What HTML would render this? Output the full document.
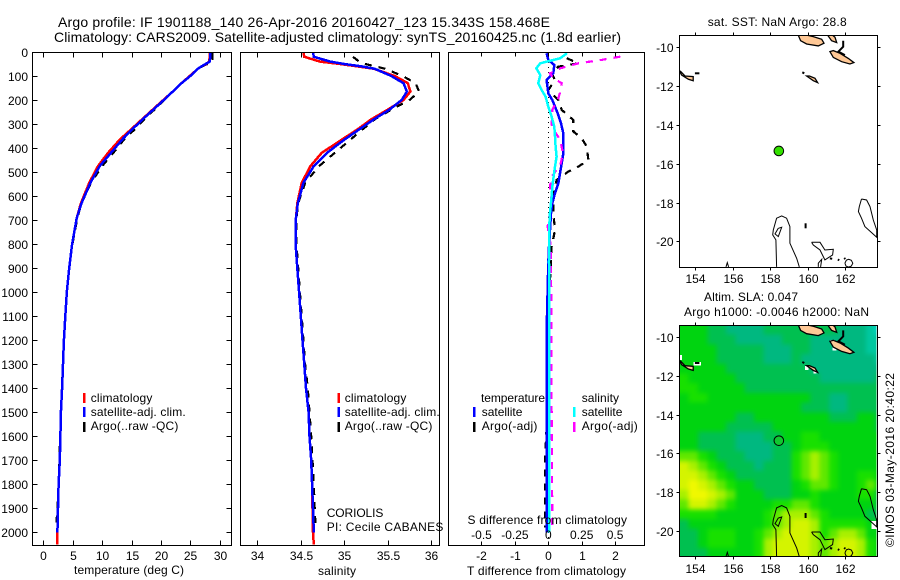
<!DOCTYPE html>
<html>
<head>
<meta charset="utf-8">
<title>Argo profile</title>
<style>
html,body{margin:0;padding:0;background:#fff;width:900px;height:580px;overflow:hidden}
svg{display:block}
text{font-family:"Liberation Sans",Arial,sans-serif;fill:#000;font-size:12px}
.t{font-size:14px}
</style>
</head>
<body>
<svg id="chart" width="900" height="580" viewBox="0 0 900 580" xmlns="http://www.w3.org/2000/svg">
  <defs>
    <clipPath id="clip-map1"><rect x="679.5" y="35.5" width="198" height="231.5"/></clipPath>
    <clipPath id="clip-map2"><rect x="679.5" y="325.5" width="198" height="231"/></clipPath>
    <clipPath id="clip-heat"><rect x="679.5" y="325.5" width="197" height="231"/></clipPath>
    <filter id="heat-smooth" filterUnits="userSpaceOnUse" x="640" y="290" width="260" height="290" color-interpolation-filters="sRGB">
      <feGaussianBlur stdDeviation="2.3"/>
    </filter>
  </defs>
  <g clip-path="url(#clip-heat)">
    <g id="heat" filter="url(#heat-smooth)"></g>
    <g id="heat-nan"></g>
  </g>
  <g id="map1" clip-path="url(#clip-map1)"></g>
  <g id="map2" clip-path="url(#clip-map2)"></g>
  <g id="series"></g>
  <g id="axes"></g>

  <text class="t" x="58" y="27" textLength="492" lengthAdjust="spacing">Argo profile: IF 1901188_140 26-Apr-2016 20160427_123 15.343S 158.468E</text>
  <text class="t" x="54" y="42" textLength="567" lengthAdjust="spacing">Climatology: CARS2009. Satellite-adjusted climatology: synTS_20160425.nc (1.8d earlier)</text>

  <text x="74" y="574" textLength="110" lengthAdjust="spacing">temperature (deg C)</text>
  <text x="318" y="575" textLength="38" lengthAdjust="spacing">salinity</text>
  <text x="467" y="575" textLength="159" lengthAdjust="spacing">T difference from climatology</text>
  <text x="467.5" y="524" textLength="159.5" lengthAdjust="spacing">S difference from climatology</text>

  <g>
    <rect x="83" y="393" width="2.5" height="10" fill="#f00"/>
    <rect x="83" y="407" width="2.5" height="10" fill="#00f"/>
    <rect x="83" y="422" width="2.5" height="10" fill="#000"/>
    <text x="90.7" y="402" textLength="61.7" lengthAdjust="spacing">climatology</text>
    <text x="90.7" y="416" textLength="95" lengthAdjust="spacing">satellite-adj. clim.</text>
    <text x="90.7" y="430" textLength="87.7" lengthAdjust="spacing">Argo(..raw -QC)</text>
  </g>
  <g>
    <rect x="337.5" y="393" width="2.5" height="10" fill="#f00"/>
    <rect x="337.5" y="407" width="2.5" height="10" fill="#00f"/>
    <rect x="337.5" y="422" width="2.5" height="10" fill="#000"/>
    <text x="344.7" y="402" textLength="61.7" lengthAdjust="spacing">climatology</text>
    <text x="344.7" y="416" textLength="95" lengthAdjust="spacing">satellite-adj. clim.</text>
    <text x="344.7" y="430" textLength="87.7" lengthAdjust="spacing">Argo(..raw -QC)</text>
  </g>
  <text x="326.7" y="517" textLength="56.7" lengthAdjust="spacing">CORIOLIS</text>
  <text x="326.7" y="531" textLength="116.7" lengthAdjust="spacing">PI: Cecile CABANES</text>

  <g>
    <text x="481" y="402" textLength="64" lengthAdjust="spacing">temperature</text>
    <rect x="473" y="407" width="2.5" height="10" fill="#00f"/>
    <rect x="473" y="422" width="2.5" height="10" fill="#000"/>
    <text x="481.7" y="416" textLength="40.7" lengthAdjust="spacing">satellite</text>
    <text x="481.7" y="430" textLength="55.7" lengthAdjust="spacing">Argo(-adj)</text>
    <text x="581.7" y="402" textLength="37.3" lengthAdjust="spacing">salinity</text>
    <rect x="573" y="407" width="2.5" height="10" fill="#0ff"/>
    <rect x="573" y="422" width="2.5" height="10" fill="#f0f"/>
    <text x="581.7" y="416" textLength="40.7" lengthAdjust="spacing">satellite</text>
    <text x="581.7" y="430" textLength="56" lengthAdjust="spacing">Argo(-adj)</text>
  </g>

  <text x="707.7" y="26" textLength="139" lengthAdjust="spacing">sat. SST: NaN Argo: 28.8</text>
  <text x="704" y="301" textLength="94" lengthAdjust="spacing">Altim. SLA: 0.047</text>
  <text x="684" y="316" textLength="185" lengthAdjust="spacing">Argo h1000: -0.0046 h2000: NaN</text>
  <text transform="translate(894 547) rotate(-90)" x="0" y="0" textLength="174" lengthAdjust="spacing">©IMOS 03-May-2016 20:40:22</text>
</svg>

<script>
// ---- profile data ----
const depthLevels = [0,20,40,50,60,70,100,130,165,200,240,280,325,365,420,475,545,630,690,800,900,1000,1100,1200,1300,1400,1500,1600,1700,1800,1900,2000,2050];
const climTemp = [28.3,28.3,28.2,27.7,26.9,26.3,24.9,23.5,22.0,20.4,18.6,16.8,14.8,13.0,11.0,9.3,7.8,6.4,5.7,4.9,4.4,4.0,3.75,3.5,3.35,3.2,3.0,2.9,2.8,2.6,2.5,2.4,2.35];
const adjTemp = [28.4,28.4,28.3,27.6,26.9,26.3,25.0,23.5,22.0,20.5,18.7,16.9,15.0,13.4,11.5,9.6,8.0,6.5,5.7,4.9,4.4,4.0,3.75,3.5,3.35,3.2,3.0,2.9,2.8,2.6,2.5,2.4];
const climSal = [34.53,34.54,34.72,34.95,35.15,35.34,35.58,35.73,35.76,35.68,35.5,35.31,35.14,34.97,34.74,34.61,34.51,34.46,34.445,34.44,34.46,34.48,34.5,34.52,34.54,34.56,34.59,34.6,34.62,34.63,34.635,34.64,34.65];
const adjSal = [34.64,34.65,34.84,35.0,35.2,35.35,35.54,35.68,35.72,35.66,35.52,35.34,35.16,35.0,34.8,34.65,34.53,34.465,34.445,34.44,34.46,34.48,34.5,34.52,34.54,34.56,34.59,34.6,34.62,34.63,34.64,34.65];
const argoDepth = [5,20,40,50,60,70,100,130,165,200,240,280,325,365,420,475,545,630,690,800,900,1000,1100,1200,1300,1400,1500,1600,1700,1800,1900,1980];
const argoTemp = [28.8,28.8,28.8,27.9,27.0,26.2,25.0,23.5,22.0,20.6,18.9,17.2,15.4,13.7,11.9,10.0,8.1,6.5,5.8,4.95,4.4,4.0,3.75,3.5,3.35,3.15,3.0,2.85,2.75,2.6,2.4,2.2];
const argoSalDepth = [20,40,50,60,70,100,130,165,200,240,280,325,365,420,475,545,630,690,800,900,1000,1100,1200,1300,1400,1500,1600,1700,1800,1900,1980];
const argoSal = [35.1,35.17,35.24,35.36,35.47,35.67,35.82,35.86,35.75,35.54,35.35,35.2,35.07,34.89,34.71,34.55,34.47,34.45,34.45,34.47,34.49,34.51,34.53,34.55,34.58,34.6,34.62,34.635,34.65,34.66,34.67];

const satTDepth = [5,33,54,89,117,172,200,255,297,338,380,422,464,505,547,588,630,672,741,811,880,1100,1500,2000];
const satTDiff = [-0.05,0,0.18,0.15,-0.05,0,0.12,0.28,0.38,0.45,0.45,0.45,0.4,0.35,0.3,0.2,0.12,0.08,0.05,0.02,0,-0.04,-0.05,-0.05];
const satSDepth = [5,26,47,68,96,130,158,186,228,269,311,352,394,436,477,519,561,602,672,741,880,1500,2000];
const satSDiff = [0.14,0.09,-0.06,-0.09,-0.06,-0.075,-0.05,-0.02,0,0.025,0.045,0.05,0.055,0.062,0.05,0.04,0.03,0.025,0.012,0.006,0.005,0.006,0.006];
const argoSDepth = [19,33,47,68,89,110,130,165,193,241,311,366,422,470,519,561,630,727,811,880,1000,1400,1700,1980];
const argoSDiff = [0.54,0.4,0.225,0.09,0.012,0.04,0.1,0.09,0.075,0.03,0.025,0.09,0.11,0.09,0.025,0.012,0.025,-0.005,0.02,0.02,0.022,0.024,0.028,0.03];
const argoTDepth = [26,47,61,89,117,158,200,241,283,331,359,394,450,477,498,533,588,672,741,811,880,1000,1100,1500,1700,1850,1980];
const argoTDiff = [0.55,0.9,0.3,0.1,0.2,0,0.3,0.4,0.75,0.75,1.0,1.15,1.2,0.9,0.6,0.25,0.15,0.15,0.2,0.1,0.08,0.03,-0.05,-0.03,-0.1,-0.1,-0.1];

// ---- tick labels ----
const depthTicks = [0,100,200,300,400,500,600,700,800,900,1000,1100,1200,1300,1400,1500,1600,1700,1800,1900,2000];
const tempTicks = [0,5,10,15,20,25,30];
const salTicks = [34,34.5,35,35.5,36];
const tDiffTicks = [-2,-1,0,1,2];
const sDiffTicks = [-0.5,-0.25,0,0.25,0.5];
const lonTicks = [154,156,158,160,162];
const latTicks = [-10,-12,-14,-16,-18,-20];

// ---- float position ----
const floatLon = 158.468;
const floatLat = -15.343;

// ---- SLA heatmap (colour level per half-degree cell, north to south) ----
const heatLon0 = 153.14;
const heatLat0 = -9.38;
const heatStep = 0.5;
const slaRow00 = [4,4,4,3,3,2,2,2,2,3,3,3,3,3,3,3,3,2,2,2,1,0];
const slaRow01 = [4,4,4,3,3,3,2,2,2,2,2,3,3,3,2,2,2,2,2,2,1,1];
const slaRow02 = [4,4,4,4,3,3,3,3,3,2,2,2,3,3,2,2,2,2,2,2,1,1];
const slaRow03 = [4,4,4,4,3,3,3,3,3,2,2,2,3,2,2,2,2,2,2,2,2,1];
const slaRow04 = [4,4,4,4,4,3,3,3,3,3,3,3,3,3,2,2,2,2,2,2,2,2];
const slaRow05 = [5,4,4,4,4,4,3,3,3,3,3,3,3,3,3,2,2,2,2,2,2,3];
const slaRow06 = [5,5,4,4,4,4,4,3,3,3,3,3,3,3,3,3,3,3,3,3,3,3];
const slaRow07 = [4,5,5,4,4,4,4,4,4,4,4,4,4,4,3,3,2,2,3,3,3,3];
const slaRow08 = [4,4,4,4,4,4,4,4,4,4,4,4,4,3,3,3,2,2,3,3,3,3];
const slaRow09 = [4,4,4,4,4,4,3,3,4,4,4,4,4,4,4,4,3,3,3,4,4,3];
const slaRow10 = [4,4,4,4,4,3,3,3,3,3,4,4,4,4,4,4,4,4,4,4,4,3];
const slaRow11 = [4,4,3,3,3,3,2,2,2,3,3,4,4,5,5,4,4,4,4,4,4,4];
const slaRow12 = [4,4,3,3,3,3,2,2,2,2,3,3,4,5,5,5,4,4,4,4,4,4];
const slaRow13 = [6,6,5,4,3,3,3,2,2,2,3,3,5,6,7,6,5,4,4,4,4,4];
const slaRow14 = [8,7,6,5,4,3,3,3,2,3,3,3,5,6,7,6,5,4,4,4,4,4];
const slaRow15 = [8,8,7,6,5,4,3,3,3,3,3,3,5,6,7,6,5,4,4,5,5,4];
const slaRow16 = [8,9,8,7,6,5,4,4,3,3,3,3,4,5,6,6,5,4,4,5,6,4];
const slaRow17 = [7,9,9,8,7,6,4,4,4,3,3,3,4,4,5,4,4,4,4,5,5,3];
const slaRow18 = [6,8,8,7,6,5,4,4,4,4,5,5,6,6,5,4,4,4,4,4,4,3];
const slaRow19 = [5,5,5,5,4,4,4,4,4,5,6,7,7,7,6,5,4,4,4,4,3,3];
const slaRow20 = [3,4,4,4,4,4,4,4,4,5,6,7,8,8,7,5,5,5,5,5,4,3];
const slaRow21 = [3,3,4,5,5,5,4,4,5,6,7,8,8,8,7,5,6,7,7,6,4,4];
const slaRow22 = [3,3,4,5,5,5,4,4,5,7,8,8,8,8,7,6,7,8,8,7,5,4];
const slaRow23 = [3,3,3,4,4,4,4,4,5,7,8,8,8,8,7,6,7,8,8,7,5,4];
const slaGrid = [slaRow00,slaRow01,slaRow02,slaRow03,slaRow04,slaRow05,slaRow06,slaRow07,slaRow08,slaRow09,slaRow10,slaRow11,slaRow12,slaRow13,slaRow14,slaRow15,slaRow16,slaRow17,slaRow18,slaRow19,slaRow20,slaRow21,slaRow22,slaRow23];
const slaPalette = ['#00d8d0','#00c8a0','#00b880','#00c050','#00d410','#18e000','#60e800','#a8f000','#d4f400','#f0f800'];
const nanLon = [[153.14,153.28],[153.9,154.3],[163.43,163.7],[159.86,160.05],[160.31,160.49],[161.2,161.47],[161.34,161.56]];
const nanLat = [[-10.93,-11.19],[-11.29,-11.48],[-19.48,-19.9],[-11.49,-11.7],[-11.7,-11.87],[-10.15,-10.29],[-10.53,-10.7]];

// ---- coastlines & bathymetry in lon/lat ----
const islandA = [[159.51,-9.38],[159.63,-9.66],[159.95,-9.83],[160.58,-9.93],[160.88,-9.79],[160.76,-9.59],[160.31,-9.45],[159.99,-9.38]];
const islandB = [[161.08,-9.38],[161.29,-9.66],[161.56,-9.76],[161.47,-9.48],[161.34,-9.38]];
const islandC = [[161.2,-10.22],[161.38,-10.52],[161.83,-10.74],[162.27,-10.86],[162.48,-10.79],[162.18,-10.57],[161.74,-10.31],[161.38,-10.17]];
const islandD = [[159.95,-11.48],[160.31,-11.72],[160.54,-11.82],[160.4,-11.6],[160.1,-11.48]];
const islandE = [[153.14,-11.2],[153.27,-11.43],[153.63,-11.65],[153.89,-11.72],[153.89,-11.51],[153.45,-11.48],[153.22,-11.25]];
const reefThick1 = [[161.91,-9.66],[161.91,-9.97],[161.65,-10.22],[162.0,-10.4]];
const reefThick2 = [[153.98,-11.34],[154.22,-11.34]];
const reefThick3 = [[159.72,-11.29],[159.83,-11.34]];
const reefThick4 = [[159.9,-19.07],[159.9,-19.33]];
const reefThick5 = [[161.2,-20.88],[161.32,-20.9]];
const reefThick6 = [[161.62,-20.94],[161.7,-20.98]];
const reefThick7 = [[161.96,-20.86],[162.02,-20.92]];
const contourF = [[162.89,-17.82],[162.77,-18.21],[162.72,-18.47],[162.89,-18.81],[163.07,-19.24],[163.43,-19.55],[163.7,-19.79],[163.7,-19.42],[163.52,-18.9],[163.34,-18.21],[163.16,-17.87],[162.89,-17.82]];
const contourG = [[158.35,-21.32],[158.31,-19.93],[158.14,-19.67],[158.17,-19.42],[158.35,-18.81],[158.62,-18.69],[158.88,-18.81],[159.06,-19.24],[159.06,-20.1],[159.42,-20.88],[159.56,-21.32]];
const contourGInner = [[158.44,-19.33],[158.62,-19.28],[158.44,-19.76],[158.26,-19.62],[158.44,-19.33]];
const contourH = [[160.22,-20.05],[160.67,-20.05],[160.93,-20.45],[161.38,-20.41],[161.34,-20.7],[160.93,-20.96],[160.67,-20.45],[160.31,-20.19],[160.22,-20.05]];
const contourJ = [[160.58,-21.32],[160.58,-21.13],[160.76,-20.93],[160.7,-21.32]];
const contourK = [[162.0,-21.13],[162.08,-20.97],[162.2,-20.93],[162.34,-20.98],[162.42,-21.13],[162.34,-21.28],[162.2,-21.33],[162.06,-21.28],[162.0,-21.13]];
const contourM = [[155.64,-21.32],[155.71,-21.1],[155.78,-21.32]];
const islands = [islandA,islandB,islandC,islandD,islandE];
const reefs = [reefThick1,reefThick2,reefThick3,reefThick4,reefThick5,reefThick6,reefThick7];
const contours = [contourF,contourG,contourGInner,contourH,contourJ,contourK,contourM];

// ---- scales ----
const yDepth = d => 52 + d * 0.2402;
const xTemp = v => 43.3 + v * 5.88;
const xSal = v => 257.3 + (v - 34) * 87;
const xTDiff = v => 548.3 + v * 33.4;
const xSDiff = v => 548.3 + v * 133.6;
const xLon = v => 695.3 + (v - 154) * 18.7;
const yLat1 = v => 47.3 - (v + 10) * 19.4;
const yLat2 = v => 337 - (v + 10) * 19.4;

const NS = 'http://www.w3.org/2000/svg';
function mk(parent, tag, attrs) {
  const el = document.createElementNS(NS, tag);
  for (const k in attrs) el.setAttribute(k, attrs[k]);
  parent.appendChild(el);
  return el;
}
const seriesG = document.getElementById('series');
const axesG = document.getElementById('axes');

function drawSeries(name, xs, depths, values, color, width, dash) {
  const n = Math.min(depths.length, values.length);
  const pts = [];
  for (let i = 0; i < n; i++) pts.push(xs(values[i]).toFixed(1) + ',' + yDepth(depths[i]).toFixed(1));
  const attrs = {points: pts.join(' '), fill: 'none', stroke: color, 'stroke-width': width, 'shape-rendering': 'crispEdges'};
  if (dash) attrs['stroke-dasharray'] = dash;
  const line = mk(seriesG, 'polyline', attrs);
  
  
}

// temperature panel
drawSeries('temperature-argo-line', xTemp, argoDepth, argoTemp, '#000', 2.2, '7 7');
drawSeries('temperature-climatology-line', xTemp, depthLevels, climTemp, '#f00', 2.5);
drawSeries('temperature-satellite-line', xTemp, depthLevels, adjTemp, '#00f', 2.5);
// salinity panel
drawSeries('salinity-argo-line', xSal, argoSalDepth, argoSal, '#000', 2.2, '7 7');
drawSeries('salinity-climatology-line', xSal, depthLevels, climSal, '#f00', 2.5);
drawSeries('salinity-satellite-line', xSal, depthLevels, adjSal, '#00f', 2.5);
// difference panel
const zero = mk(seriesG, 'line', {x1: xTDiff(0), x2: xTDiff(0), y1: yDepth(0), y2: yDepth(2050), stroke: '#000', 'stroke-width': 1, 'stroke-dasharray': '1 4', 'shape-rendering': 'crispEdges'});


drawSeries('t-difference-argo-line', xTDiff, argoTDepth, argoTDiff, '#000', 2.2, '7 7');
drawSeries('t-difference-satellite-line', xTDiff, satTDepth, satTDiff, '#00f', 2.5);
drawSeries('s-difference-argo-line', xSDiff, argoSDepth, argoSDiff, '#f0f', 2.2, '7 7');
drawSeries('s-difference-satellite-line', xSDiff, satSDepth, satSDiff, '#0ff', 2.5);

// axes
function frame(name, x0, y0, x1, y1) {
  const r = mk(axesG, 'rect', {x: x0, y: y0, width: x1 - x0, height: y1 - y0, fill: 'none', stroke: '#000', 'stroke-width': 1, 'shape-rendering': 'crispEdges'});
  
  
}
function tick(name, x1, y1, x2, y2) {
  const t = mk(axesG, 'line', {x1: x1, y1: y1, x2: x2, y2: y2, stroke: '#000', 'stroke-width': 1, 'shape-rendering': 'crispEdges'});
  
  
}
function label(name, x, y, str, anchor) {
  const t = mk(axesG, 'text', {x: x, y: y, 'text-anchor': anchor});
  t.textContent = str;
  
  
}
const top0 = 52.5, bot0 = 545.5;
frame('temperature-plot-frame', 32.5, top0, 231.5, bot0);
frame('salinity-plot-frame', 240.5, top0, 439.5, bot0);
frame('difference-plot-frame', 448.5, top0, 644.5, bot0);

depthTicks.forEach(d => {
  const y = Math.round(yDepth(d)) + 0.5;
  tick('depth-tick-left', 32.5, y, 37.5, y);
  tick('depth-tick-right', 226.5, y, 231.5, y);
  label('depth-tick-label', 28, y + 4.5, String(d), 'end');
});
tempTicks.forEach(v => {
  const x = Math.round(xTemp(v)) + 0.5;
  tick('temperature-tick-top', x, top0, x, top0 + 5);
  tick('temperature-tick-bottom', x, bot0 - 5, x, bot0);
  label('temperature-tick-label', x, 560, String(v), 'middle');
});
salTicks.forEach(v => {
  const x = Math.round(xSal(v)) + 0.5;
  tick('salinity-tick-top', x, top0, x, top0 + 5);
  tick('salinity-tick-bottom', x, bot0 - 5, x, bot0);
  label('salinity-tick-label', x, 560, String(v), 'middle');
});
tDiffTicks.forEach(v => {
  const x = Math.round(xTDiff(v)) + 0.5;
  tick('t-difference-tick-top', x, top0, x, top0 + 4);
  tick('t-difference-tick-bottom', x, bot0 - 4, x, bot0);
  label('t-difference-tick-label', x, 560, String(v), 'middle');
});
sDiffTicks.forEach(v => {
  const x = xSDiff(v);
  label('s-difference-tick-label', x, 539, String(v), 'middle');
});

// heatmap: outer cells bleed past the clip so the smoothing does not fade at the frame
const heatG = document.getElementById('heat');
const heatNanG = document.getElementById('heat-nan');
const heatBleed = 14;
slaGrid.forEach((row, j) => {
  row.forEach((v, i) => {
    let x0 = xLon(heatLon0 + i * heatStep);
    let y0 = yLat2(heatLat0 - j * heatStep);
    let x1 = xLon(heatLon0 + (i + 1) * heatStep);
    let y1 = yLat2(heatLat0 - (j + 1) * heatStep);
    if (i === 0) x0 -= heatBleed;
    if (j === 0) y0 -= heatBleed;
    if (i === row.length - 1) x1 += heatBleed;
    if (j === slaGrid.length - 1) y1 += heatBleed;
    const cell = mk(heatG, 'rect', {x: x0, y: y0, width: x1 - x0 + 0.5, height: y1 - y0 + 0.5, fill: slaPalette[v], 'shape-rendering': 'crispEdges'});
    
    
  });
});
nanLon.forEach((lons, i) => {
  const lats = nanLat[i];
  const cell = mk(heatNanG, 'rect', {x: xLon(lons[0]), y: yLat2(lats[0]), width: xLon(lons[1]) - xLon(lons[0]), height: yLat2(lats[1]) - yLat2(lats[0]), fill: '#fff', 'shape-rendering': 'crispEdges'});
  
  
});

// maps
function drawMap(groupId, yLat, markerFill) {
  const g = document.getElementById(groupId);
  const toPts = arr => arr.map(p => xLon(p[0]).toFixed(1) + ',' + yLat(p[1]).toFixed(1)).join(' ');
  contours.forEach(c => {
    const line = mk(g, 'polyline', {points: toPts(c), fill: 'none', stroke: '#000', 'stroke-width': 1});
    
    
  });
  islands.forEach(c => {
    const poly = mk(g, 'polygon', {points: toPts(c), fill: '#ffc896', stroke: '#000', 'stroke-width': 1.3});
    
    
  });
  reefs.forEach(c => {
    const line = mk(g, 'polyline', {points: toPts(c), fill: 'none', stroke: '#000', 'stroke-width': 2});
    
    
  });
  const dot = mk(g, 'circle', {cx: xLon(floatLon), cy: yLat(floatLat), r: 4.8, fill: markerFill, stroke: '#000', 'stroke-width': 1});
  
  
}
drawMap('map1', yLat1, '#33e000');
drawMap('map2', yLat2, '#10c830');

function mapAxes(name, yLat, y0, y1, labelBase) {
  const x0 = 679.5, x1 = 877.5;
  frame(name + '-frame', x0, y0, x1, y1);
  lonTicks.forEach(v => {
    const x = Math.round(xLon(v)) + 0.5;
    tick(name + '-lon-tick-top', x, y0 - 3, x, y0);
    tick(name + '-lon-tick-bottom', x, y1, x, y1 + 3);
    label(name + '-lon-tick-label', x, labelBase, String(v), 'middle');
  });
  latTicks.forEach(v => {
    const y = Math.round(yLat(v)) + 0.5;
    tick(name + '-lat-tick-left', x0 - 3, y, x0, y);
    tick(name + '-lat-tick-right', x1, y, x1 + 3, y);
    label(name + '-lat-tick-label', 673.5, y + 4.5, String(v), 'end');
  });
}
mapAxes('sst-map', yLat1, 35.5, 267.5, 283);
mapAxes('sla-map', yLat2, 325.5, 556.5, 573);
</script>
</body>
</html>
